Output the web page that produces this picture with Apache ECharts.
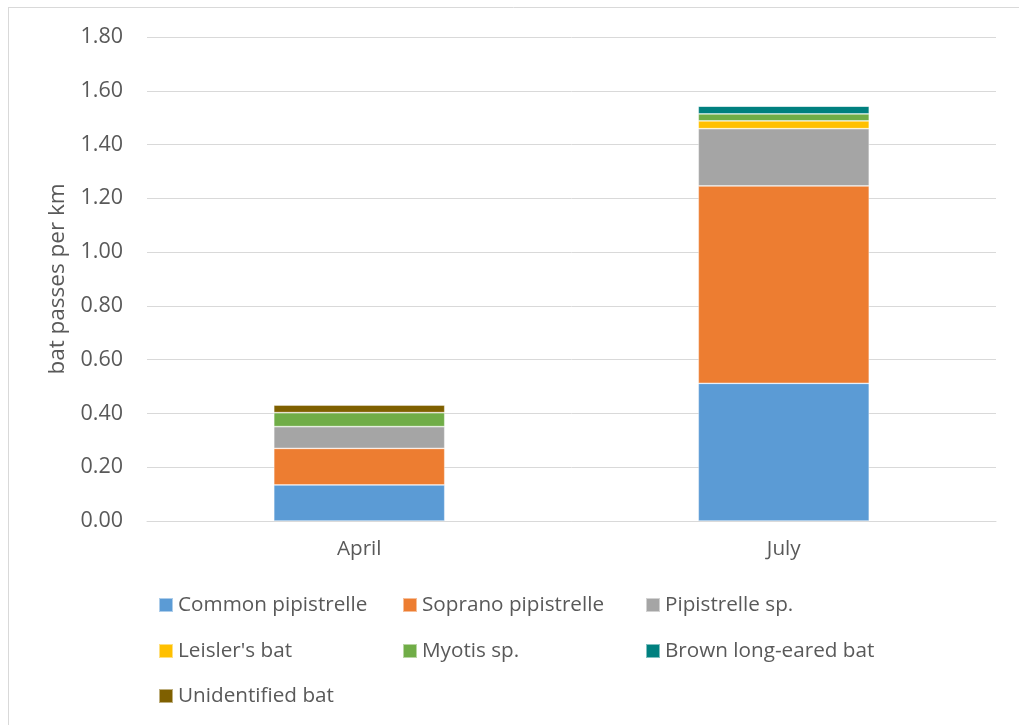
<!DOCTYPE html>
<html>
<head>
<meta charset="utf-8">
<script src="https://cdn.jsdelivr.net/npm/echarts@6/dist/echarts.min.js"></script>
<style>
  html, body { margin: 0; padding: 0; background: #fff; }
  #chart { width: 1019px; height: 725px; }
</style>
</head>
<body>
<div id="chart"></div>
<script>
// data
const months = ['April', 'July']
const seriesNames = ['Common pipistrelle', 'Soprano pipistrelle', 'Pipistrelle sp.', "Leisler's bat", 'Myotis sp.', 'Brown long-eared bat', 'Unidentified bat']
const commonPip = [0.134, 0.512]
const sopranoPip = [0.136, 0.734]
const pipSp = [0.081, 0.213]
const leisler = [0, 0.029]
const myotis = [0.052, 0.026]
const brownLongEared = [0, 0.029]
const unidentified = [0.028, 0]
const yTicks = [0, 0.2, 0.4, 0.6, 0.8, 1.0, 1.2, 1.4, 1.6, 1.8]

const colors = ['#5B9BD5', '#ED7D31', '#A5A5A5', '#FFC000', '#70AD47', '#00807F', '#7F6000']
const values = [commonPip, sopranoPip, pipSp, leisler, myotis, brownLongEared, unidentified]

const fontFamily = '"Open Sans", sans-serif'
const textColor = '#595959'

// legend laid out in 3 columns, one legend per item
const legendCols = [158, 402, 645]
const legendRows = [593, 639, 684]
let legends = seriesNames.map((name, i) => ({
  data: [name],
  left: legendCols[i % 3],
  top: legendRows[Math.floor(i / 3)],
  itemWidth: 14,
  itemHeight: 14,
  icon: 'rect',
  padding: 0,
  textStyle: { color: textColor, fontSize: 20.7, fontFamily: fontFamily, lineHeight: 24, padding: [0, 0, 0, 0] }
}))

let chart = echarts.init(document.getElementById('chart'))
chart.setOption({
  animation: false,
  color: colors,
  grid: { left: 147, right: 23, top: 37, bottom: 204, containLabel: false },
  legend: legends,
  graphic: [
    { type: 'line', shape: { x1: 8, y1: 7.5, x2: 1019, y2: 7.5 }, style: { stroke: '#D9D9D9', lineWidth: 1 } },
    { type: 'line', shape: { x1: 8.5, y1: 7, x2: 8.5, y2: 725 }, style: { stroke: '#D9D9D9', lineWidth: 1 } }
  ],
  xAxis: {
    type: 'category',
    data: months,
    axisLine: { lineStyle: { color: '#D9D9D9', width: 1 } },
    axisTick: { show: false },
    axisLabel: { color: textColor, fontSize: 20.7, fontFamily: fontFamily, margin: 18 }
  },
  yAxis: {
    type: 'value',
    min: 0,
    max: 1.8,
    interval: 0.2,
    name: 'bat passes per km',
    nameLocation: 'middle',
    nameGap: 75,
    nameTextStyle: { color: textColor, fontSize: 22.5, fontFamily: fontFamily },
    axisLine: { show: false },
    axisTick: { show: false },
    splitLine: { lineStyle: { color: '#D9D9D9', width: 1 } },
    axisLabel: {
      color: textColor,
      fontSize: 21.5,
      fontFamily: fontFamily,
      margin: 24,
      formatter: v => yTicks.includes(+v.toFixed(1)) ? v.toFixed(2) : ''
    }
  },
  series: seriesNames.map((name, i) => ({
    name: name,
    type: 'bar',
    stack: 'total',
    barWidth: 171,
    data: values[i],
    itemStyle: { color: colors[i], borderColor: 'rgba(255,255,255,0.5)', borderWidth: 0.75 }
  }))
})
</script>
</body>
</html>
